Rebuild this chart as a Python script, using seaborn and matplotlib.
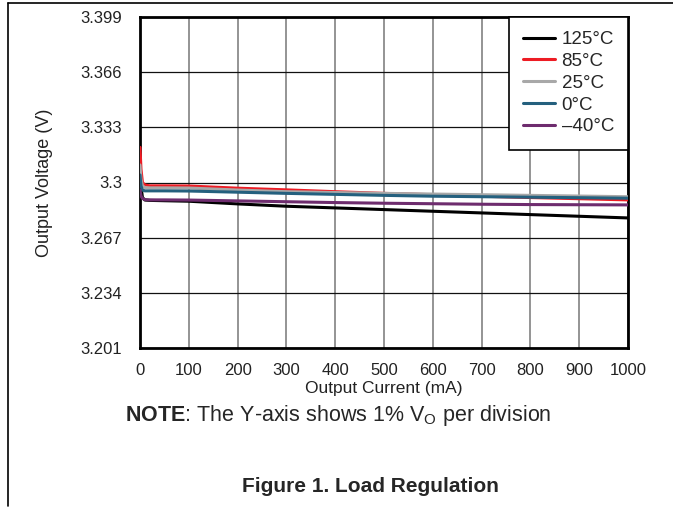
import matplotlib
matplotlib.use('Agg')
import matplotlib.pyplot as plt
from matplotlib.lines import Line2D
import numpy as np
import pandas as pd
import seaborn as sns

# output current (mA)
current = [0, 2, 5, 10, 20, 50, 100, 200, 300, 400, 500, 600, 700, 800, 900, 1000]

# output voltage (V) per temperature
v_125 = [3.3100, 3.2980, 3.2910, 3.2895, 3.2893, 3.2891, 3.2888, 3.2872, 3.2858, 3.2848,
         3.2838, 3.2828, 3.2818, 3.2808, 3.2798, 3.2788]
v_85 = [3.3210, 3.3080, 3.3000, 3.2985, 3.2980, 3.2980, 3.2979, 3.2966, 3.2956, 3.2945,
        3.2935, 3.2927, 3.2918, 3.2910, 3.2903, 3.2896]
v_25 = [3.3105, 3.3020, 3.2980, 3.2970, 3.2968, 3.2968, 3.2967, 3.2955, 3.2945, 3.2940,
        3.2935, 3.2931, 3.2927, 3.2923, 3.2919, 3.2915]
v_0 = [3.3045, 3.2980, 3.2955, 3.2950, 3.2950, 3.2950, 3.2949, 3.2942, 3.2935, 3.2929,
       3.2923, 3.2918, 3.2915, 3.2912, 3.2909, 3.2906]
v_m40 = [3.2955, 3.2920, 3.2905, 3.2898, 3.2896, 3.2896, 3.2895, 3.2890, 3.2885, 3.2880,
         3.2876, 3.2873, 3.2870, 3.2868, 3.2867, 3.2866]

temps = ['125°C', '85°C', '25°C', '0°C', '–40°C']
colors = ['#000000', '#ED1C24', '#A8A8A8', '#24607E', '#6E2C6E']

x_ticks = list(range(0, 1001, 100))
y_ticks = [3.201, 3.234, 3.267, 3.3, 3.333, 3.366, 3.399]
y_tick_labels = ['3.201', '3.234', '3.267', '3.3', '3.333', '3.366', '3.399']

series = [v_125, v_85, v_25, v_0, v_m40]
frames = []
for t, v in zip(temps, series):
  frames.append(pd.DataFrame({'current': current, 'voltage': v, 'temp': t}))
df = pd.concat(frames, ignore_index=True)

sns.set_style('white')
plt.rcParams['font.family'] = ['Liberation Sans', 'DejaVu Sans']
plt.rcParams['mathtext.fontset'] = 'custom'
plt.rcParams['mathtext.rm'] = 'Liberation Sans'
plt.rcParams['mathtext.bf'] = 'Liberation Sans:bold'

W, H = 673, 514
fig = plt.figure(figsize=(6.73, 5.14), dpi=100)
ax = fig.add_axes([140 / W, 1 - 348 / H, 488 / W, 331 / H])

sns.lineplot(data=df, x='current', y='voltage', hue='temp', hue_order=temps,
             palette=colors, linewidth=2.2, ax=ax, legend=False, zorder=3)

ax.set_xlim(0, 1000)
ax.set_ylim(3.201, 3.399)
ax.set_xticks(x_ticks)
ax.set_yticks(y_ticks)
ax.set_yticklabels(y_tick_labels)
ax.tick_params(length=0, labelsize=12, labelcolor='#222222')
ax.tick_params(axis='x', pad=10.5)
ax.tick_params(axis='y', pad=13)

ax.grid(True, axis='y', color='#111111', linewidth=0.9)
ax.grid(True, axis='x', color='#777777', linewidth=1.1)
for s in ax.spines.values():
  s.set_color('black')
  s.set_linewidth(2)

ax.set_xlabel('Output Current (mA)', fontsize=12.5, color='#222222')
ax.set_ylabel('Output Voltage (V)', fontsize=13, color='#222222')
ax.xaxis.label.set_va('center')
ax.yaxis.label.set_va('center')
ax.xaxis.set_label_coords(0.5, (348 - 389) / 331)
ax.yaxis.set_label_coords((45 - 140) / 488, 0.5)

handles = [Line2D([0], [0], color=c, linewidth=2.2) for c in colors]
leg = ax.legend(handles, temps, loc='upper right', bbox_to_anchor=(1.0, 1.0),
                borderaxespad=0, frameon=True, fancybox=False, fontsize=13.5,
                handlelength=1.7, handletextpad=0.35, labelspacing=0.25,
                borderpad=0.75)
leg.get_frame().set_edgecolor('black')
leg.get_frame().set_linewidth(1.2)
leg.get_frame().set_alpha(1)
leg.set_zorder(5)

fig.text(125 / W, 1 - 416 / H,
         r'$\mathbf{NOTE}$: The Y-axis shows 1% V$_\mathrm{O}$ per division',
         fontsize=15.5, va='center', ha='left')
fig.text(242 / W, 1 - 487 / H, 'Figure 1. Load Regulation',
         fontsize=15, fontweight='bold', va='center', ha='left')

# page border
fig.add_artist(Line2D([8 / W, 1], [1 - 3 / H, 1 - 3 / H],
                      color='black', linewidth=1.2, transform=fig.transFigure))
fig.add_artist(Line2D([8 / W, 8 / W], [1 - 3 / H, 1 - 506 / H],
                      color='black', linewidth=1.2, transform=fig.transFigure))

fig.savefig('out.png', dpi=100)
